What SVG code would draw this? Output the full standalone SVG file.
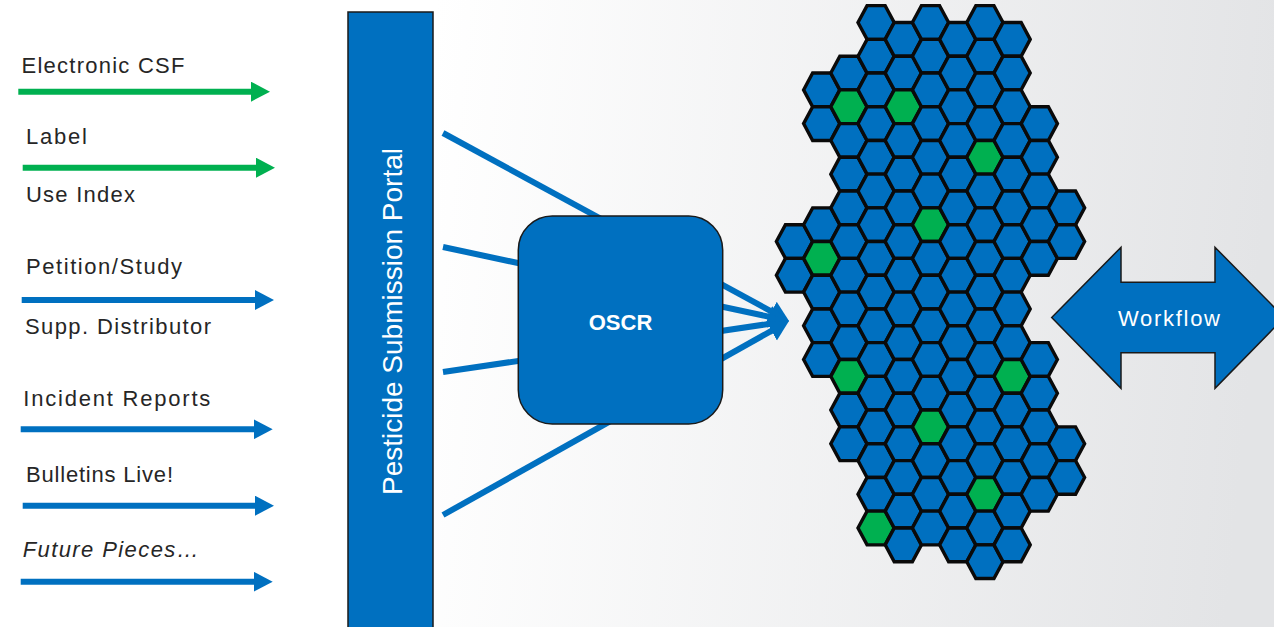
<svg xmlns="http://www.w3.org/2000/svg" xmlns:xlink="http://www.w3.org/1999/xlink" width="1274" height="627" viewBox="0 0 1274 627">
<style>
.lbl{font-family:"Liberation Sans",Arial,sans-serif;font-size:22px;fill:#262626}
.wt{font-family:"Liberation Sans",Arial,sans-serif;fill:#ffffff}
.hb{fill:#0070C0;stroke:#0a0a0a;stroke-width:3.4;stroke-linejoin:miter}
.hg{fill:#00B050;stroke:#0a0a0a;stroke-width:3.4;stroke-linejoin:miter}
.arG{stroke:#00B050;stroke-width:6;fill:none}
.arB{stroke:#0070C0;stroke-width:6;fill:none}
.feed{stroke:#0070C0;stroke-width:6;fill:none}
.box{fill:#0070C0;stroke:#1a1a1a;stroke-width:1.5}
</style>
<defs>
<linearGradient id="bg" x1="0" y1="0" x2="1274" y2="120" gradientUnits="userSpaceOnUse">
<stop offset="0.34" stop-color="#ffffff"/>
<stop offset="1" stop-color="#e3e4e6"/>
</linearGradient>
<marker id="ahG" markerUnits="userSpaceOnUse" markerWidth="20" markerHeight="20" refX="2" refY="10" orient="auto"><path d="M0,0 L19,10 L0,20Z" fill="#00B050"/></marker>
<marker id="ahB" markerUnits="userSpaceOnUse" markerWidth="20" markerHeight="20" refX="2" refY="10" orient="auto"><path d="M0,0 L19,10 L0,20Z" fill="#0070C0"/></marker>
<marker id="ahBig" markerUnits="userSpaceOnUse" markerWidth="22" markerHeight="24" refX="8" refY="11" orient="auto"><path d="M0,0 L20,11 L0,22Z" fill="#0070C0"/></marker>
<path id="hx" d="M18.1,0 L9.05,16.85 L-9.05,16.85 L-18.1,0 L-9.05,-16.85 L9.05,-16.85Z"/>
</defs>

<rect x="0" y="0" width="1274" height="627" fill="url(#bg)"/>

<g id="connectors">
<line class="arG" x1="18.3" y1="91.7" x2="253" y2="91.7" marker-end="url(#ahG)"/>
<line class="arG" x1="22.7" y1="167.7" x2="258" y2="167.7" marker-end="url(#ahG)"/>
<line class="arB" x1="21.7" y1="300" x2="257" y2="300" marker-end="url(#ahB)"/>
<line class="arB" x1="20.7" y1="429.3" x2="255.7" y2="429.3" marker-end="url(#ahB)"/>
<line class="arB" x1="22.7" y1="505.7" x2="257" y2="505.7" marker-end="url(#ahB)"/>
<line class="arB" x1="20.7" y1="581.7" x2="255.7" y2="581.7" marker-end="url(#ahB)"/>
<line class="feed" x1="443" y1="133" x2="778.5" y2="315.3" marker-end="url(#ahBig)"/>
<line class="feed" x1="443" y1="247" x2="777.3" y2="318.5" marker-end="url(#ahBig)"/>
<line class="feed" x1="443" y1="372" x2="777.1" y2="322.7" marker-end="url(#ahBig)"/>
<line class="feed" x1="443" y1="515" x2="778.5" y2="326.9" marker-end="url(#ahBig)"/>
</g>

<g id="inputs">
<text id="in-csf" class="lbl" x="21.5" y="72.5" textLength="163">Electronic CSF</text>
<text id="in-label" class="lbl" x="26" y="144" textLength="61">Label</text>
<text id="in-useindex" class="lbl" x="26" y="202.3" textLength="109">Use Index</text>
<text id="in-petition" class="lbl" x="26" y="274.3" textLength="156">Petition/Study</text>
<text id="in-supp" class="lbl" x="25" y="334.3" textLength="186">Supp. Distributor</text>
<text id="in-incident" class="lbl" x="23.3" y="405.7" textLength="187">Incident Reports</text>
<text id="in-bulletins" class="lbl" x="26" y="481.7" textLength="147">Bulletins Live!</text>
<text id="in-future" class="lbl" x="22.7" y="556.7" textLength="176" font-style="italic">Future Pieces…</text>
</g>

<g id="portal">
<rect class="box" x="348" y="12" width="85" height="620"/>
<text class="wt" transform="translate(402,321.5) rotate(-90)" text-anchor="middle" font-size="28" textLength="347">Pesticide Submission Portal</text>
</g>

<g id="oscr">
<rect class="box" x="518.3" y="216" width="204.4" height="208" rx="34" ry="34"/>
<text class="wt" x="620.5" y="329.5" text-anchor="middle" font-size="22" font-weight="bold">OSCR</text>
</g>

<g id="hex-cluster">
<g transform="translate(794.5,0)">
<use href="#hx" class="hb" y="241.55"/><use href="#hx" class="hb" y="275.25"/>
</g>
<g transform="translate(821.7,0)">
<use href="#hx" class="hb" y="89.9"/><use href="#hx" class="hb" y="123.6"/><use href="#hx" class="hb" y="224.7"/><use href="#hx" class="hg" y="258.4"/><use href="#hx" class="hb" y="292.1"/><use href="#hx" class="hb" y="325.8"/><use href="#hx" class="hb" y="359.5"/>
</g>
<g transform="translate(848.9,0)">
<use href="#hx" class="hb" y="73.05"/><use href="#hx" class="hg" y="106.75"/><use href="#hx" class="hb" y="140.45"/><use href="#hx" class="hb" y="174.15"/><use href="#hx" class="hb" y="207.85"/><use href="#hx" class="hb" y="241.55"/><use href="#hx" class="hb" y="275.25"/><use href="#hx" class="hb" y="308.95"/><use href="#hx" class="hb" y="342.65"/><use href="#hx" class="hg" y="376.35"/><use href="#hx" class="hb" y="410.05"/><use href="#hx" class="hb" y="443.75"/>
</g>
<g transform="translate(876.1,0)">
<use href="#hx" class="hb" y="22.5"/><use href="#hx" class="hb" y="56.2"/><use href="#hx" class="hb" y="89.9"/><use href="#hx" class="hb" y="123.6"/><use href="#hx" class="hb" y="157.3"/><use href="#hx" class="hb" y="191"/><use href="#hx" class="hb" y="224.7"/><use href="#hx" class="hb" y="258.4"/><use href="#hx" class="hb" y="292.1"/><use href="#hx" class="hb" y="325.8"/><use href="#hx" class="hb" y="359.5"/><use href="#hx" class="hb" y="393.2"/><use href="#hx" class="hb" y="426.9"/><use href="#hx" class="hb" y="460.6"/><use href="#hx" class="hb" y="494.3"/><use href="#hx" class="hg" y="528"/>
</g>
<g transform="translate(903.3,0)">
<use href="#hx" class="hb" y="39.35"/><use href="#hx" class="hb" y="73.05"/><use href="#hx" class="hg" y="106.75"/><use href="#hx" class="hb" y="140.45"/><use href="#hx" class="hb" y="174.15"/><use href="#hx" class="hb" y="207.85"/><use href="#hx" class="hb" y="241.55"/><use href="#hx" class="hb" y="275.25"/><use href="#hx" class="hb" y="308.95"/><use href="#hx" class="hb" y="342.65"/><use href="#hx" class="hb" y="376.35"/><use href="#hx" class="hb" y="410.05"/><use href="#hx" class="hb" y="443.75"/><use href="#hx" class="hb" y="477.45"/><use href="#hx" class="hb" y="511.15"/><use href="#hx" class="hb" y="544.85"/>
</g>
<g transform="translate(930.5,0)">
<use href="#hx" class="hb" y="22.5"/><use href="#hx" class="hb" y="56.2"/><use href="#hx" class="hb" y="89.9"/><use href="#hx" class="hb" y="123.6"/><use href="#hx" class="hb" y="157.3"/><use href="#hx" class="hb" y="191"/><use href="#hx" class="hg" y="224.7"/><use href="#hx" class="hb" y="258.4"/><use href="#hx" class="hb" y="292.1"/><use href="#hx" class="hb" y="325.8"/><use href="#hx" class="hb" y="359.5"/><use href="#hx" class="hb" y="393.2"/><use href="#hx" class="hg" y="426.9"/><use href="#hx" class="hb" y="460.6"/><use href="#hx" class="hb" y="494.3"/><use href="#hx" class="hb" y="528"/>
</g>
<g transform="translate(957.7,0)">
<use href="#hx" class="hb" y="39.35"/><use href="#hx" class="hb" y="73.05"/><use href="#hx" class="hb" y="106.75"/><use href="#hx" class="hb" y="140.45"/><use href="#hx" class="hb" y="174.15"/><use href="#hx" class="hb" y="207.85"/><use href="#hx" class="hb" y="241.55"/><use href="#hx" class="hb" y="275.25"/><use href="#hx" class="hb" y="308.95"/><use href="#hx" class="hb" y="342.65"/><use href="#hx" class="hb" y="376.35"/><use href="#hx" class="hb" y="410.05"/><use href="#hx" class="hb" y="443.75"/><use href="#hx" class="hb" y="477.45"/><use href="#hx" class="hb" y="511.15"/><use href="#hx" class="hb" y="544.85"/>
</g>
<g transform="translate(984.9,0)">
<use href="#hx" class="hb" y="22.5"/><use href="#hx" class="hb" y="56.2"/><use href="#hx" class="hb" y="89.9"/><use href="#hx" class="hb" y="123.6"/><use href="#hx" class="hg" y="157.3"/><use href="#hx" class="hb" y="191"/><use href="#hx" class="hb" y="224.7"/><use href="#hx" class="hb" y="258.4"/><use href="#hx" class="hb" y="292.1"/><use href="#hx" class="hb" y="325.8"/><use href="#hx" class="hb" y="359.5"/><use href="#hx" class="hb" y="393.2"/><use href="#hx" class="hb" y="426.9"/><use href="#hx" class="hb" y="460.6"/><use href="#hx" class="hg" y="494.3"/><use href="#hx" class="hb" y="528"/><use href="#hx" class="hb" y="561.7"/>
</g>
<g transform="translate(1012.1,0)">
<use href="#hx" class="hb" y="39.35"/><use href="#hx" class="hb" y="73.05"/><use href="#hx" class="hb" y="106.75"/><use href="#hx" class="hb" y="140.45"/><use href="#hx" class="hb" y="174.15"/><use href="#hx" class="hb" y="207.85"/><use href="#hx" class="hb" y="241.55"/><use href="#hx" class="hb" y="275.25"/><use href="#hx" class="hb" y="308.95"/><use href="#hx" class="hb" y="342.65"/><use href="#hx" class="hg" y="376.35"/><use href="#hx" class="hb" y="410.05"/><use href="#hx" class="hb" y="443.75"/><use href="#hx" class="hb" y="477.45"/><use href="#hx" class="hb" y="511.15"/><use href="#hx" class="hb" y="544.85"/>
</g>
<g transform="translate(1039.3,0)">
<use href="#hx" class="hb" y="123.6"/><use href="#hx" class="hb" y="157.3"/><use href="#hx" class="hb" y="191"/><use href="#hx" class="hb" y="224.7"/><use href="#hx" class="hb" y="258.4"/><use href="#hx" class="hb" y="359.5"/><use href="#hx" class="hb" y="393.2"/><use href="#hx" class="hb" y="426.9"/><use href="#hx" class="hb" y="460.6"/><use href="#hx" class="hb" y="494.3"/>
</g>
<g transform="translate(1066.5,0)">
<use href="#hx" class="hb" y="207.85"/><use href="#hx" class="hb" y="241.55"/><use href="#hx" class="hb" y="443.75"/><use href="#hx" class="hb" y="477.45"/>
</g>
</g>

<g id="workflow">
<polygon class="box" points="1051.7,317.5 1121,247.3 1121,282.3 1215,282.3 1215,247.3 1284.3,317.5 1215,388.3 1215,352.7 1121,352.7 1121,388.3"/>
<text class="wt" x="1118" y="326" font-size="22" textLength="102">Workflow</text>
</g>
</svg>
